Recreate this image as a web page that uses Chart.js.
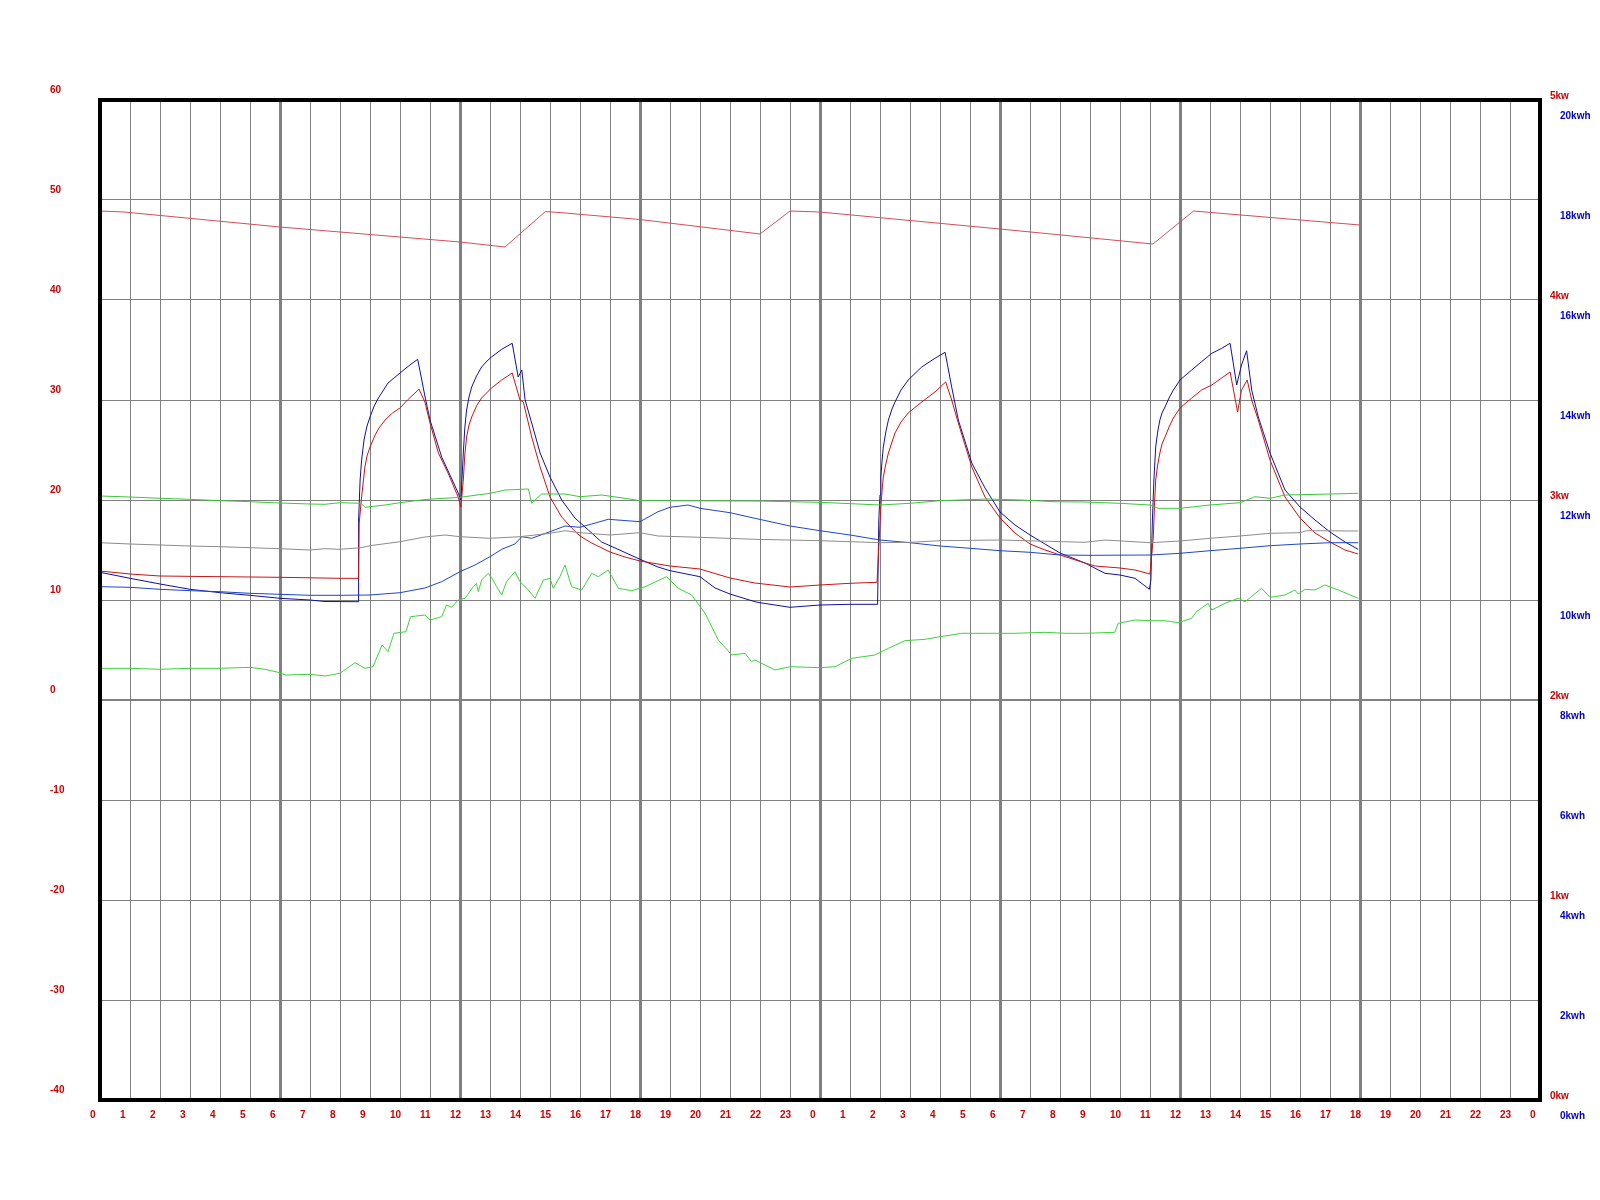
<!DOCTYPE html>
<html>
<head>
<meta charset="utf-8">
<script src="https://cdn.jsdelivr.net/npm/chart.js@4"></script>
<style>
  body { margin: 0; background: #fff; }
  #chart { display: block; }
</style>
</head>
<body>
<canvas id="chart" width="1600" height="1200"></canvas>
<script>
// hours 0..48 (two days), values on the left axis
const hourTicks = [];
for (let h = 0; h <= 48; h++) hourTicks.push(h);
const leftTicks = [60, 50, 40, 30, 20, 10, 0, -10, -20, -30, -40];
const kwTicks = [5, 4, 3, 2, 1, 0];
const kwhTicks = [20, 18, 16, 14, 12, 10, 8, 6, 4, 2, 0];

const tankTemp = [[0,48.9],[0.8,48.8],[6,47.3],[12,45.8],[13.5,45.3],[14.85,48.85],[15.5,48.7],[18,48.05],[22,46.6],[23,48.9],[24,48.8],[30,47.1],[35.1,45.6],[36.45,48.9],[42,47.5]];

const flowTemp = [[0,12.9],[1,12.6],[2,12.4],[4,12.33],[6,12.27],[8,12.17],[8.62,12.17],[8.64,17.7],[8.72,20.3],[8.83,23.3],[8.9,24.4],[9,25.3],[9.17,26.5],[9.3,27.2],[9.5,28],[9.75,28.7],[10,29.2],[10.25,30],[10.5,30.7],[10.63,31.1],[10.83,29.8],[11,27.7],[11.28,24.7],[11.6,22.7],[11.94,20.3],[12.03,19.3],[12.11,22],[12.16,24.5],[12.22,26.3],[12.3,27.5],[12.39,28.3],[12.55,29.4],[12.72,30.2],[13.05,31.2],[13.39,32],[13.74,32.7],[14,30],[14.11,29.8],[14.39,26.3],[14.67,23.3],[15,20.3],[15.39,18.3],[15.72,17.2],[16,16.4],[16.39,15.7],[17,14.8],[17.5,14.3],[18,13.9],[18.6,13.6],[19,13.4],[20,13.1],[21,12.2],[21.83,11.7],[23,11.3],[24,11.5],[25,11.67],[25.9,11.77],[26.03,19.3],[26.07,21],[26.11,22.3],[26.2,23.7],[26.28,24.7],[26.4,25.8],[26.5,26.7],[26.7,27.8],[26.94,28.7],[27.39,29.8],[27.83,30.8],[28.19,31.8],[28.39,30],[28.61,27.7],[29.06,23.3],[29.5,20.3],[30,18.2],[30.5,16.7],[31,15.6],[31.5,15],[32,14.5],[32.83,13.7],[33.17,13.4],[34,13.2],[34.5,13],[35,12.6],[35.11,16.3],[35.15,19.5],[35.19,22],[35.26,23.6],[35.33,24.7],[35.4,25.6],[35.5,26.3],[35.65,27.4],[35.78,28.2],[36,29.2],[36.39,30.2],[36.72,31],[37.06,31.5],[37.39,32.2],[37.67,32.8],[37.92,28.8],[38.05,31],[38.24,32],[38.39,30],[38.61,28],[39,24],[39.5,20.3],[40,18.2],[40.5,16.7],[41,15.8],[41.5,15],[41.94,14.6]];

const returnTemp = [[0,12.77],[1,12.17],[2,11.6],[3,11.07],[4,10.73],[5,10.47],[6,10.17],[7,10.0],[7.5,9.85],[8.6,9.83],[8.62,18],[8.67,22],[8.72,24],[8.8,26],[8.9,27.4],[9,28.3],[9.14,29.4],[9.28,30.2],[9.45,31],[9.6,31.7],[9.8,32.2],[10,32.7],[10.33,33.5],[10.59,34.07],[10.83,30.4],[11,28],[11.39,24.3],[11.94,20.7],[12.03,20],[12.11,24.7],[12.16,27.2],[12.22,29],[12.3,30.3],[12.39,31.3],[12.55,32.4],[12.72,33.3],[12.9,33.9],[13.05,34.3],[13.39,35.07],[13.74,35.67],[13.94,32.3],[14.06,33],[14.17,30],[14.39,27.7],[14.67,24.7],[15,22.3],[15.39,20],[15.83,18.2],[16.28,17],[16.72,15.8],[17.17,15.2],[18,14.07],[18.6,13.3],[19,12.93],[20,12.33],[20.5,11.2],[21,10.6],[21.83,9.83],[22,9.73],[23,9.27],[24,9.5],[25,9.57],[25.92,9.57],[25.96,18],[26.0,20.5],[26.03,22.3],[26.07,24],[26.11,25.3],[26.2,26.9],[26.28,28],[26.4,29.1],[26.5,29.8],[26.7,31],[26.94,32],[27.39,33.3],[27.83,34.17],[28.17,34.77],[28.39,31.3],[28.61,28],[29.06,23.7],[29.5,21.2],[30,18.8],[30.5,17.5],[31,16.5],[31.5,15.6],[32,14.7],[32.83,13.7],[33.5,12.67],[34,12.5],[34.5,12.17],[34.98,11.07],[35.03,12],[35.08,18],[35.13,22],[35.19,25.3],[35.26,26.9],[35.33,28],[35.4,28.7],[35.5,29.3],[35.65,30.3],[35.78,31],[36,32],[36.39,33],[36.72,33.83],[37.06,34.67],[37.39,35.17],[37.67,35.67],[37.89,31.5],[38.05,33.5],[38.22,34.93],[38.39,31],[38.61,28.3],[39,24.7],[39.5,21],[40,19.3],[40.5,18],[41,16.8],[41.5,15.8],[41.94,15.07]];

const energy = [[0,11.33],[1,11.27],[2,11.07],[3,10.93],[4,10.83],[5,10.67],[6,10.57],[7,10.47],[8,10.47],[9,10.5],[10,10.73],[10.83,11.2],[11.39,11.83],[12,12.83],[12.5,13.5],[13,14.33],[13.39,15.07],[13.83,15.6],[14.06,16.33],[14.39,16.17],[15,16.83],[15.5,17.4],[16,17.27],[16.39,17.6],[16.94,18.07],[18,17.83],[18.6,18.83],[19,19.27],[19.6,19.5],[20,19.17],[21,18.73],[21.83,18.17],[23,17.4],[24,16.93],[25,16.5],[26,16],[27,15.73],[28,15.4],[29,15.17],[30,14.93],[31,14.77],[32,14.5],[33,14.47],[35,14.5],[36,14.67],[37,14.93],[38,15.17],[39,15.43],[40,15.6],[41,15.73],[41.94,15.73]];

const greyTemp = [[0,15.73],[1,15.6],[2,15.5],[3,15.4],[4,15.33],[5,15.23],[6,15.13],[7,15.0],[7.5,15.13],[8,15.07],[8.7,15.23],[9,15.43],[10,15.83],[10.83,16.3],[11.5,16.5],[12,16.33],[13,16.17],[14,16.33],[15,16.67],[15.5,16.93],[16,16.73],[17,16.5],[18,16.73],[18.6,16.4],[20,16.27],[21.83,16.07],[24,15.93],[26,15.73],[27,15.77],[28,15.93],[30,16],[32.83,15.77],[33.5,16],[35,15.73],[36,15.9],[37,16.17],[38,16.4],[39,16.67],[40,16.73],[40.22,16.93],[41.94,16.9]];

const roomTemp = [[0,20.4],[1,20.3],[2,20.17],[3,20.07],[4,19.93],[5,19.83],[6,19.7],[7,19.6],[7.5,19.57],[8,19.73],[8.7,19.67],[8.83,19.27],[9,19.33],[9.5,19.5],[10,19.73],[10.83,20.05],[12,20.27],[13,20.67],[13.5,21],[14.28,21.1],[14.39,19.67],[14.72,20.6],[15.5,20.6],[16,20.33],[16.72,20.5],[17.5,20.17],[18,19.93],[21.83,19.9],[24,19.77],[26,19.5],[27,19.67],[28,19.93],[29.6,20.1],[30.7,20],[31.8,19.83],[32.83,19.8],[34,19.67],[35,19.5],[35.28,19.17],[36,19.17],[37,19.5],[38,19.73],[38.5,20.33],[39,20.17],[39.5,20.5],[41,20.6],[41.94,20.67]];

const outdoorTemp = [[0,3.17],[1,3.17],[2,3.07],[3,3.17],[4,3.17],[5,3.27],[5.5,3.07],[5.9,2.8],[6.2,2.5],[7,2.57],[7.5,2.4],[8,2.67],[8.5,3.73],[8.83,3.17],[9.1,3.33],[9.4,5.5],[9.6,4.83],[9.8,6.67],[10.2,6.83],[10.35,8.33],[10.83,8.5],[11,8.0],[11.39,8.33],[11.55,9.5],[11.72,9.27],[11.94,10],[12.17,10.17],[12.44,11.33],[12.55,11.67],[12.61,10.83],[12.72,12],[12.94,12.67],[13.05,12.27],[13.22,11.33],[13.39,10.5],[13.55,11.83],[13.83,12.83],[14,11.83],[14.28,11],[14.5,10.17],[14.78,12],[15,12.17],[15.11,11.17],[15.33,12.33],[15.5,13.5],[15.72,11.33],[16.06,11],[16.39,12.67],[16.61,12.33],[16.94,13],[17.28,11.17],[17.72,10.93],[18.17,11.33],[18.6,11.93],[18.89,12.33],[19.28,11.17],[19.72,10.5],[20.17,8.67],[20.61,6],[21.06,4.5],[21.5,4.67],[21.72,3.83],[21.83,4.0],[22.5,3.0],[23,3.33],[24,3.23],[24.5,3.33],[25.06,4.17],[25.83,4.5],[26.28,5.17],[26.83,5.93],[27.5,6.07],[28,6.33],[28.72,6.67],[29.61,6.67],[30.5,6.67],[31.5,6.77],[32.17,6.67],[32.83,6.67],[33.83,6.77],[33.94,7.67],[34.5,8.0],[35,7.93],[35.5,7.93],[35.94,7.73],[36.39,8.17],[36.55,8.83],[36.94,9.67],[37.06,9.0],[37.5,9.67],[37.94,10.17],[38.17,9.83],[38.72,11.17],[39,10.27],[39.5,10.5],[39.83,11],[39.94,10.6],[40.17,11.07],[40.5,11],[40.83,11.5],[41.28,11],[41.94,10.17]];

const toPoints = (arr) => arr.map(([x, y]) => ({ x, y }));

function line(data, color) {
  return {
    data: toPoints(data),
    borderColor: color,
    borderWidth: 1,
    pointRadius: 0,
    tension: 0,
    fill: false,
    yAxisID: "y",
  };
}

const RED = "#cc0000";
const BLUE = "#0000cc";

// axis labels, frame
const axisPlugin = {
  id: "axisLabels",
  afterDraw(chart) {
    const ctx = chart.ctx;
    const a = chart.chartArea;
    const { x, y, kw, kwh } = chart.scales;
    ctx.save();
    ctx.strokeStyle = "#000";
    ctx.lineWidth = 4;
    ctx.strokeRect(a.left, a.top, a.right - a.left, a.bottom - a.top);

    ctx.font = "bold 10px 'Liberation Sans', Arial, sans-serif";
    ctx.textBaseline = "middle";
    ctx.textAlign = "left";
    ctx.fillStyle = RED;
    leftTicks.forEach((v) => ctx.fillText(String(v), 50, y.getPixelForValue(v) - 10));
    hourTicks.forEach((h) => ctx.fillText(String(h % 24), x.getPixelForValue(h) - 10, a.bottom + 15));
    kwTicks.forEach((v) => ctx.fillText(v + "kw", a.right + 10, kw.getPixelForValue(v) - 4));
    ctx.fillStyle = BLUE;
    kwhTicks.forEach((v) => ctx.fillText(v + "kwh", a.right + 20, kwh.getPixelForValue(v) + 16));
    ctx.restore();
  },
};

new Chart(document.getElementById("chart").getContext("2d"), {
  type: "line",
  data: {
    datasets: [
      line(greyTemp, "#8c8c8c"),
      line(roomTemp, "#3cc83c"),
      line(outdoorTemp, "#3cd23c"),
      line(energy, "#1e46c8"),
      line(tankTemp, "#d24e5a"),
      line(flowTemp, "#c81414"),
      line(returnTemp, "#1010a0"),
    ],
  },
  options: {
    responsive: false,
    animation: false,
    devicePixelRatio: 1,
    layout: { padding: { left: 100, top: 100, right: 60, bottom: 100 } },
    plugins: { legend: { display: false }, tooltip: { enabled: false } },
    scales: {
      x: {
        type: "linear",
        min: 0,
        max: 48,
        ticks: { display: false, stepSize: 1 },
        grid: {
          color: "#808080",
          lineWidth: (c) => (c.tick && c.tick.value % 6 === 0 ? 3 : 1),
          drawTicks: false,
        },
        border: { display: false },
      },
      y: {
        min: -40,
        max: 60,
        ticks: { display: false, stepSize: 10 },
        grid: {
          color: "#808080",
          lineWidth: (c) => (c.tick && c.tick.value === 0 ? 2 : 1),
          drawTicks: false,
        },
        border: { display: false },
      },
      kw: { position: "right", min: 0, max: 5, display: false },
      kwh: { position: "right", min: 0, max: 20, display: false },
    },
  },
  plugins: [axisPlugin],
});
</script>
</body>
</html>
